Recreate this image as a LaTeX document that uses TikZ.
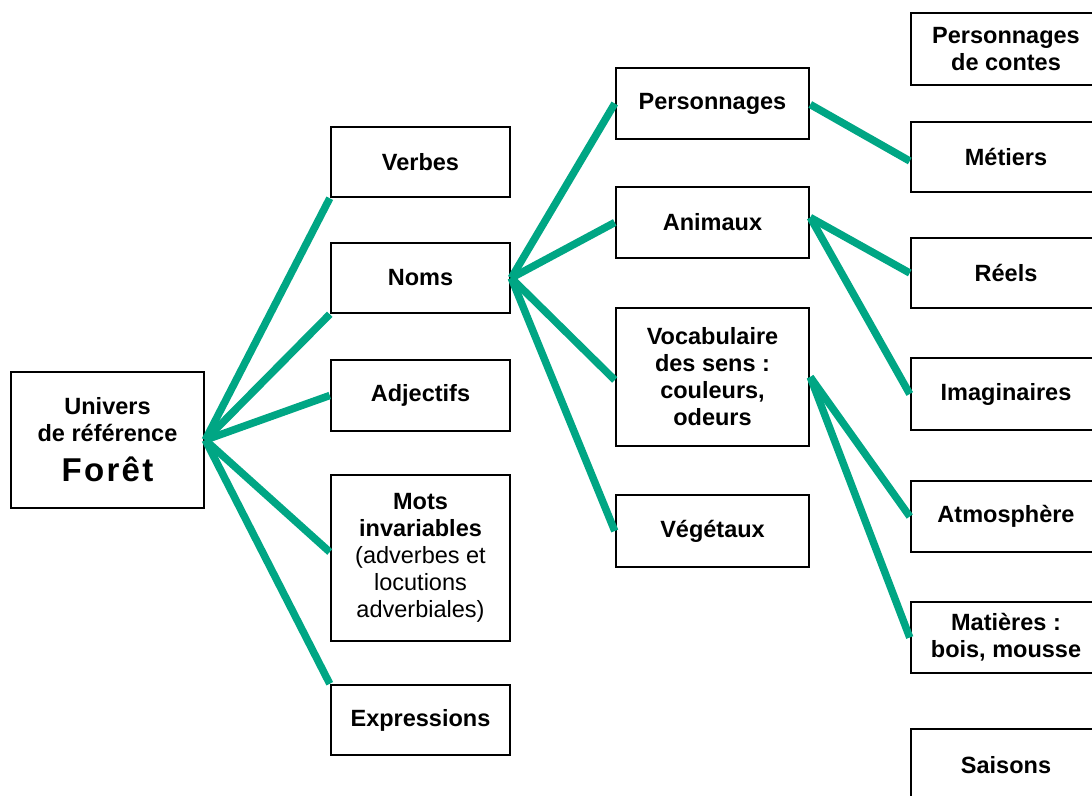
\documentclass[tikz,border=0pt]{standalone}
\usepackage{fontspec}
\setmainfont{Liberation Sans}
\definecolor{teal}{RGB}{0,166,132}
\tikzset{
  box/.style={draw=black, line width=2.5pt, fill=white, rectangle, inner sep=0pt, align=center,
    font=\bfseries\fontsize{23.5}{27}\selectfont},
  link/.style={draw=teal, line width=7.5pt, line cap=butt},
}
\begin{document}
\begin{tikzpicture}[x=1pt,y=-1pt]
\useasboundingbox (0,0) rectangle (1092,795);
\clip (0,0) rectangle (1092,795);
% column 1
\node[box, minimum width=193pt, minimum height=136pt] (foret) at (107.5,440)
  {Univers\\de référence\\[13pt]{\fontsize{33}{36}\selectfont\addfontfeature{LetterSpace=7}Forêt}};
% column 2
\node[box, minimum width=179pt, minimum height=70pt] (verbes) at (420.5,162) {Verbes};
\node[box, minimum width=179pt, minimum height=70pt] (noms) at (420.5,278) {Noms};
\node[box, minimum width=179pt, minimum height=71pt] (adj) at (420.5,395.5) {Adjectifs};
\node[box, minimum width=179pt, minimum height=166pt] (mots) at (420.5,558)
  {Mots\\invariables\\\mdseries(adverbes et\\\mdseries locutions\\\mdseries adverbiales)};
\node[box, minimum width=179pt, minimum height=70pt] (expr) at (420.5,720) {Expressions};
% column 3
\node[box, minimum width=193pt, minimum height=71pt] (perso) at (712.5,103.5) {Personnages};
\node[box, minimum width=193pt, minimum height=71pt] (anim) at (712.5,222.5) {Animaux};
\node[box, minimum width=193pt, minimum height=138pt] (voca) at (712.5,377)
  {Vocabulaire\\des sens :\\couleurs,\\odeurs};
\node[box, minimum width=193pt, minimum height=72pt] (veg) at (712.5,531) {Végétaux};
% column 4
\node[box, minimum width=190pt, minimum height=72pt] (contes) at (1006,49) {Personnages\\de contes};
\node[box, minimum width=190pt, minimum height=70pt] (metiers) at (1006,157) {Métiers};
\node[box, minimum width=190pt, minimum height=70pt] (reels) at (1006,273) {Réels};
\node[box, minimum width=190pt, minimum height=72pt] (imag) at (1006,394) {Imaginaires};
\node[box, minimum width=190pt, minimum height=71pt] (atmo) at (1006,516.5) {Atmosphère};
\node[box, minimum width=190pt, minimum height=71pt] (mat) at (1006,637.5) {Matières :\\bois, mousse};
\node[box, minimum width=190pt, minimum height=72pt] (saisons) at (1006,765) {Saisons};
% connectors
\draw[link] (foret.east) -- (verbes.south west);
\draw[link] (foret.east) -- (noms.south west);
\draw[link] (foret.east) -- (adj.west);
\draw[link] (foret.east) -- ([yshift=6pt]mots.west);
\draw[link] (foret.east) -- (expr.north west);
\draw[link] (noms.east) -- (perso.west);
\draw[link] (noms.east) -- (anim.west);
\draw[link] (noms.east) -- ([yshift=-3pt]voca.west);
\draw[link] (noms.east) -- (veg.west);
\draw[link] ([yshift=-1pt]perso.east) -- ([yshift=-4pt]metiers.west);
\draw[link] ([yshift=5pt]anim.east) -- (reels.west);
\draw[link] ([yshift=5pt]anim.east) -- (imag.west);
\draw[link] (voca.east) -- (atmo.west);
\draw[link] (voca.east) -- (mat.west);
\end{tikzpicture}
\end{document}
